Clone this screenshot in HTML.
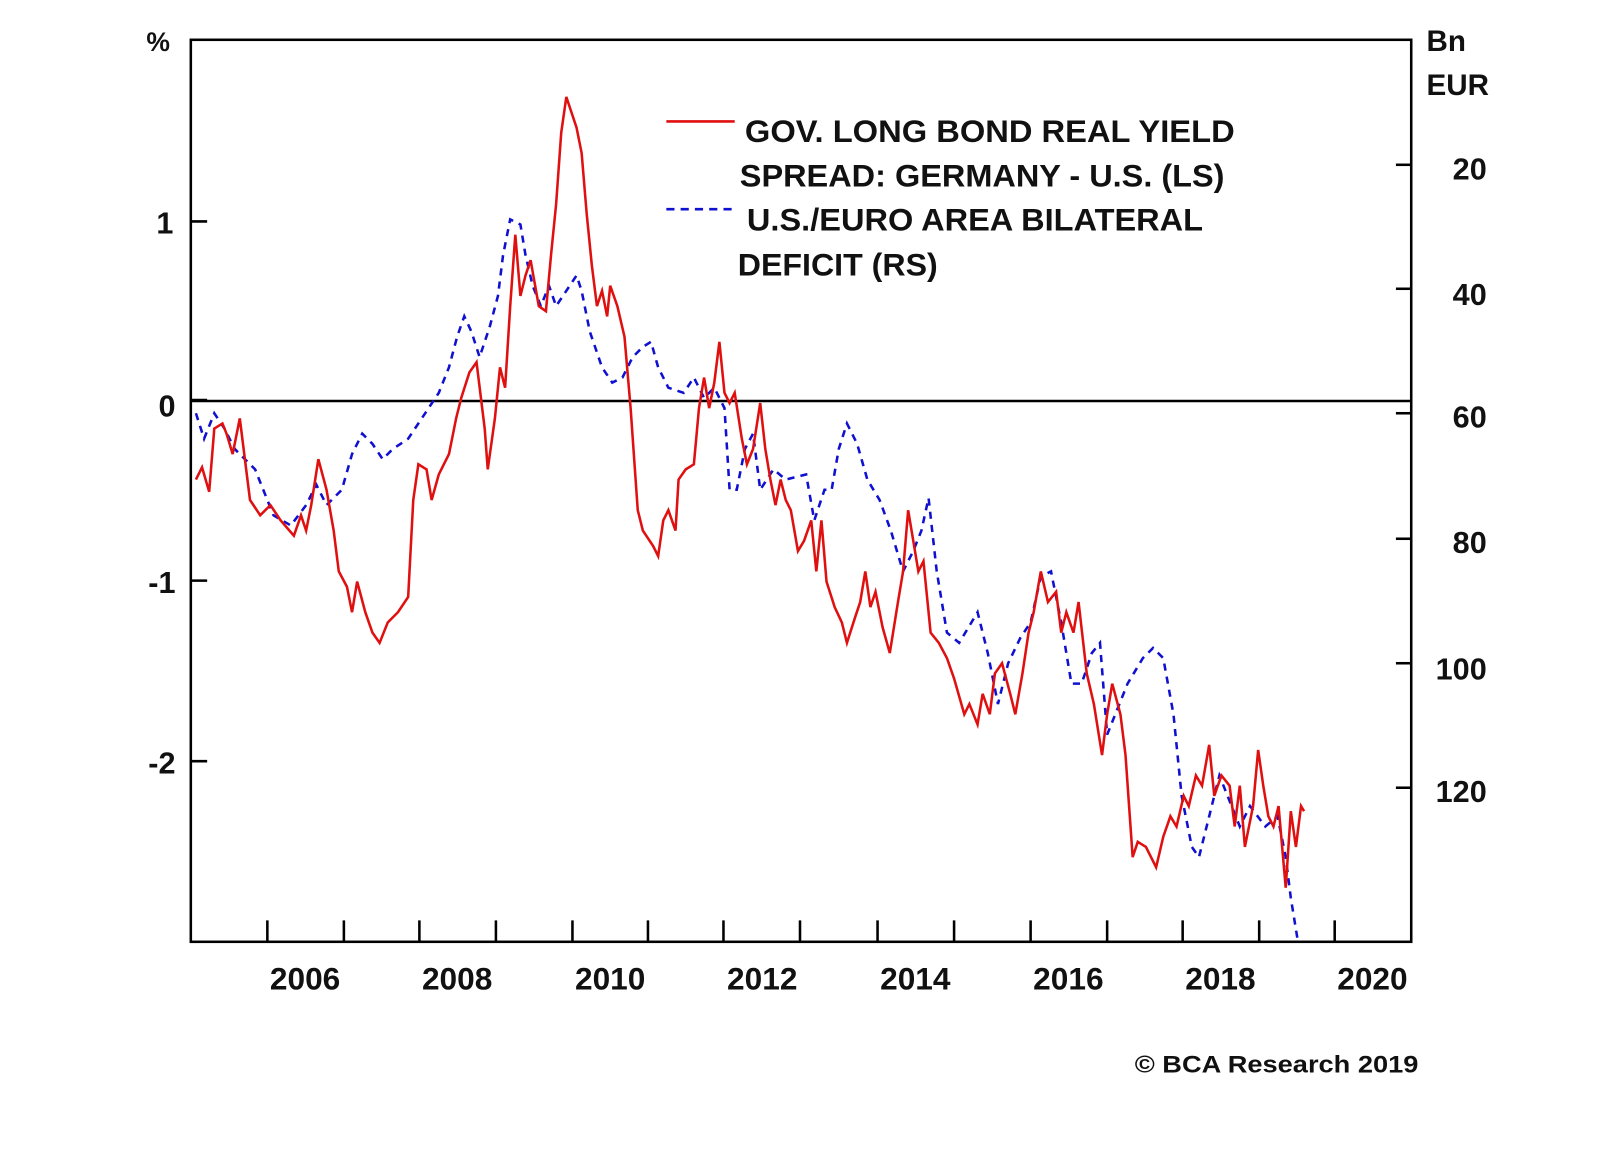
<!DOCTYPE html>
<html><head><meta charset="utf-8"><style>
html,body{margin:0;padding:0;background:#fff;}
svg{display:block;}
text{font-family:"Liberation Sans",Arial,sans-serif;font-weight:bold;fill:#111;}
</style></head><body>
<svg width="1600" height="1152" viewBox="0 0 1568 1129" preserveAspectRatio="none" xmlns="http://www.w3.org/2000/svg">
<rect width="1568" height="1129" fill="#fff"/>
<!-- zero line -->
<line x1="187" y1="393" x2="1383" y2="393" stroke="#000" stroke-width="2.5"/>
<!-- left ticks -->
<g stroke="#000" stroke-width="2.5">
<line x1="187" y1="217" x2="203" y2="217"/>
<line x1="187" y1="392" x2="203" y2="392"/>
<line x1="187" y1="569" x2="203" y2="569"/>
<line x1="187" y1="746" x2="203" y2="746"/>
<!-- right ticks -->
<line x1="1368" y1="161.5" x2="1383" y2="161.5"/>
<line x1="1368" y1="283" x2="1383" y2="283"/>
<line x1="1368" y1="405" x2="1383" y2="405"/>
<line x1="1368" y1="528" x2="1383" y2="528"/>
<line x1="1368" y1="650" x2="1383" y2="650"/>
<line x1="1368" y1="772" x2="1383" y2="772"/>
<!-- bottom ticks -->
<line x1="262" y1="923" x2="262" y2="902"/><line x1="337" y1="923" x2="337" y2="902"/>
<line x1="411" y1="923" x2="411" y2="902"/><line x1="486" y1="923" x2="486" y2="902"/>
<line x1="561" y1="923" x2="561" y2="902"/><line x1="635" y1="923" x2="635" y2="902"/>
<line x1="709" y1="923" x2="709" y2="902"/><line x1="784" y1="923" x2="784" y2="902"/>
<line x1="860" y1="923" x2="860" y2="902"/><line x1="935" y1="923" x2="935" y2="902"/>
<line x1="1010" y1="923" x2="1010" y2="902"/><line x1="1085" y1="923" x2="1085" y2="902"/>
<line x1="1159" y1="923" x2="1159" y2="902"/><line x1="1234" y1="923" x2="1234" y2="902"/>
<line x1="1308" y1="923" x2="1308" y2="902"/>
</g>
<!-- blue series -->
<polyline fill="none" stroke="#1010d0" stroke-width="2.5" stroke-dasharray="7,6" points="192,405 200,430 210,405 220,420 230,440 240,450 250,460 258,480 268,505 285,515 300,495 310,475 320,495 335,480 345,445 355,425 365,435 375,450 385,440 400,430 410,415 420,400 430,385 440,360 448,330 455,310 462,325 470,350 480,320 488,290 493,250 500,215 510,220 515,250 522,280 530,300 538,280 545,300 555,285 565,270 570,285 578,325 590,360 600,375 610,370 620,350 630,340 638,335 645,360 655,380 670,385 680,370 690,390 700,380 710,400 715,480 722,480 730,440 738,425 745,480 758,460 770,470 790,465 798,510 808,480 815,480 822,440 830,415 840,435 850,470 862,490 873,520 885,560 895,540 903,520 910,488 918,560 928,620 940,630 958,600 968,640 978,690 988,650 1000,625 1010,610 1020,565 1030,560 1040,610 1050,670 1060,670 1070,640 1078,630 1085,720 1095,695 1105,670 1120,645 1130,635 1140,645 1150,700 1158,780 1168,830 1175,840 1185,800 1195,760 1205,785 1215,810 1225,790 1240,810 1252,800 1260,840 1265,880 1272,923"/>
<!-- red series -->
<polyline fill="none" stroke="#e01010" stroke-width="2.5" stroke-linejoin="miter" points="192,470 198,458 205,482 210,420 218,415 222,425 228,445 235,410 240,450 245,490 255,505 260,500 265,495 275,510 288,525 295,505 300,520 305,495 312,450 320,480 327,520 332,560 340,575 345,600 350,570 358,600 365,620 372,630 380,610 390,600 400,585 405,490 410,455 418,460 423,490 430,465 440,445 447,410 452,390 460,365 467,355 475,420 478,460 485,410 490,360 495,380 500,300 505,230 510,290 515,270 520,255 528,300 535,305 540,250 545,200 550,130 555,95 560,110 565,125 570,150 575,210 580,260 585,300 590,285 595,310 598,280 605,300 612,330 618,400 625,500 630,520 640,535 645,545 650,510 655,500 662,520 665,470 672,460 680,455 685,400 690,370 695,400 700,375 705,335 710,385 715,395 720,385 727,430 732,455 738,440 745,395 750,440 755,470 760,495 765,470 770,490 775,500 782,540 788,530 795,510 800,560 805,510 810,570 818,595 825,610 830,630 838,605 843,590 848,560 853,595 858,580 865,615 872,640 880,590 885,560 890,500 895,530 900,560 905,550 912,620 920,630 928,645 935,665 945,700 950,690 958,710 963,680 970,700 975,660 982,650 990,680 995,700 1002,660 1008,620 1013,600 1020,560 1027,590 1035,580 1040,620 1045,600 1052,620 1057,590 1065,660 1072,690 1080,740 1085,700 1090,670 1098,700 1103,740 1110,840 1115,825 1123,830 1133,850 1140,820 1147,800 1153,810 1160,780 1165,790 1172,760 1178,770 1185,730 1190,780 1197,760 1205,770 1210,810 1215,770 1220,830 1228,790 1233,735 1238,770 1243,800 1248,810 1253,790 1260,870 1265,795 1270,830 1275,790 1278,795"/>
<!-- frame -->
<rect x="187" y="39" width="1196" height="884" fill="none" stroke="#000" stroke-width="2.5"/>
<!-- left labels -->
<text x="155" y="50" font-size="26" text-anchor="middle">%</text>
<text x="170" y="229" font-size="30" text-anchor="end">1</text>
<text x="172" y="408" font-size="30" text-anchor="end">0</text>
<text x="172" y="581" font-size="30" text-anchor="end">-1</text>
<text x="172" y="758" font-size="30" text-anchor="end">-2</text>
<!-- right labels -->
<text x="1398" y="50" font-size="29">Bn</text>
<text x="1398" y="93" font-size="29">EUR</text>
<g font-size="30" text-anchor="end">
<text x="1457" y="176">20</text>
<text x="1457" y="299">40</text>
<text x="1457" y="419">60</text>
<text x="1457" y="542">80</text>
<text x="1457" y="666">100</text>
<text x="1457" y="786">120</text>
</g>
<!-- x labels -->
<g font-size="31" text-anchor="middle">
<text x="299" y="970">2006</text>
<text x="448" y="970">2008</text>
<text x="598" y="970">2010</text>
<text x="747" y="970">2012</text>
<text x="897" y="970">2014</text>
<text x="1047" y="970">2016</text>
<text x="1196" y="970">2018</text>
<text x="1345" y="970">2020</text>
</g>
<!-- legend -->
<line x1="653" y1="119" x2="720" y2="119" stroke="#e01010" stroke-width="2.5"/>
<line x1="653" y1="205" x2="718" y2="205" stroke="#1010d0" stroke-width="2.5" stroke-dasharray="8,6"/>
<g font-size="31">
<text x="730" y="139" textLength="480" lengthAdjust="spacingAndGlyphs">GOV. LONG BOND REAL YIELD</text>
<text x="725" y="183" textLength="475" lengthAdjust="spacingAndGlyphs">SPREAD: GERMANY - U.S. (LS)</text>
<text x="732" y="226" textLength="447" lengthAdjust="spacingAndGlyphs">U.S./EURO AREA BILATERAL</text>
<text x="723" y="270" textLength="196" lengthAdjust="spacingAndGlyphs">DEFICIT (RS)</text>
</g>
<text x="1112" y="1051" font-size="24" textLength="278" lengthAdjust="spacingAndGlyphs">© BCA Research 2019</text>
</svg>
</body></html>
